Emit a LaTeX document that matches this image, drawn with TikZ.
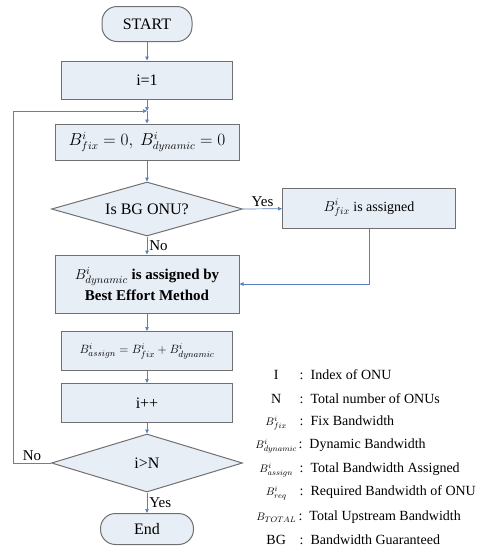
\documentclass[tikz,border=0pt]{standalone}
\usepackage{fontspec}
\setmainfont{Liberation Serif}
\usetikzlibrary{shapes.geometric,arrows.meta}
\definecolor{boxfill}{HTML}{E8EEF6}
\definecolor{boxline}{HTML}{707070}
\definecolor{flow}{HTML}{5B7FBF}
\newcommand{\legsym}[1]{\makebox[40pt][c]{#1}}
\newcommand{\legmath}[1]{\makebox[40pt][c]{\fontsize{11}{12}\selectfont #1}}

\begin{document}
\begin{tikzpicture}[
  x=1pt, y=-1pt,
  font=\fontsize{16}{19}\selectfont,
  box/.style    = {draw=boxline, fill=boxfill, line width=1pt, align=center, inner sep=2pt},
  term/.style   = {box, rounded corners=15pt},
  decide/.style = {box, diamond, shape aspect=3.5, inner sep=0pt},
  arr/.style    = {-{Triangle[length=4pt,width=3.5pt]}, draw=flow, line width=0.7pt},
  lbl/.style    = {font=\fontsize{15}{17}\selectfont, inner sep=2pt},
  legend/.style = {anchor=west, font=\fontsize{14}{16}\selectfont, inner sep=0pt},
]
\useasboundingbox (0,0) rectangle (488,552);
% main column
\node[term, minimum width=90pt, minimum height=35pt] (start) at (147,24) {START};
\node[box, minimum width=171pt, minimum height=38pt] (one) at (147,80) {i=1};
\coordinate (merge) at (147,111);
\node[box, minimum width=184pt, minimum height=36pt] (init) at (147,142) {$B^{i}_{fix}=0,\ B^{i}_{dynamic}=0$};
\node[decide, minimum width=191pt, minimum height=54pt] (bg) at (147,209) {Is BG ONU?};
\node[box, minimum width=173pt, minimum height=40pt, font=\fontsize{14}{16}\selectfont] (fixed) at (369,208) {$B^{i}_{fix}$ is assigned};
\node[box, minimum width=184pt, minimum height=58pt, font=\fontsize{15}{21}\selectfont\bfseries] (dyn) at (147,284) {$B^{i}_{dynamic}$ is assigned by\\ Best Effort Method};
\node[box, minimum width=171pt, minimum height=39pt, font=\fontsize{13}{15}\selectfont] (asg) at (147,351) {$B^{i}_{assign}=B^{i}_{fix}+B^{i}_{dynamic}$};
\node[box, minimum width=171pt, minimum height=39pt] (inc) at (147,403) {i++};
\node[decide, minimum width=191pt, minimum height=58pt] (chk) at (147,463) {i>N};
\node[term, minimum width=93pt, minimum height=31pt] (stop) at (147,529) {End};
% legend
\node[legend] (lgI) at (256,375) {\legsym{I}\ :\ \ Index of ONU};
\node[legend] (lgN) at (256,399) {\legsym{N}\ :\ \ Total number of ONUs};
\node[legend] (lgF) at (256,423) {\legmath{$B^{i}_{fix}$}\ :\ \ Fix Bandwidth};
\node[legend] (lgD) at (256,446) {\legmath{$B^{i}_{dynamic}$}\,:\ \ Dynamic Bandwidth};
\node[legend] (lgA) at (256,470) {\legmath{$B^{i}_{assign}$}\ :\ \ Total Bandwidth Assigned};
\node[legend] (lgR) at (256,493) {\legmath{$B^{i}_{req}$}\ :\ \ Required Bandwidth of ONU};
\node[legend] (lgT) at (256,517) {\legmath{$B_{TOTAL}$}\,:\ \ Total Upstream Bandwidth};
\node[legend] (lgB) at (256,540) {\legsym{BG}\ :\ \ Bandwidth Guaranteed};
% edges
\draw[arr] (start) -- (one);
\draw[arr] (one) -- (merge);
\draw[arr] (merge) -- (init);
\draw[arr] (init) -- (bg);
\draw[arr] (bg.east) -- node[lbl, above] {Yes} (fixed);
\draw[arr] (bg) -- node[lbl, right] {No} (dyn);
\draw[arr] (fixed.south) |- (dyn.east);
\draw[arr] (dyn) -- (asg);
\draw[arr] (asg) -- (inc);
\draw[arr] (inc) -- (chk);
\draw[arr] (chk) -- node[lbl, right] {Yes} (stop);
\draw[arr] (chk.west) -- node[lbl, above] {No} ++(-38,0) |- (merge);
\end{tikzpicture}
\end{document}
